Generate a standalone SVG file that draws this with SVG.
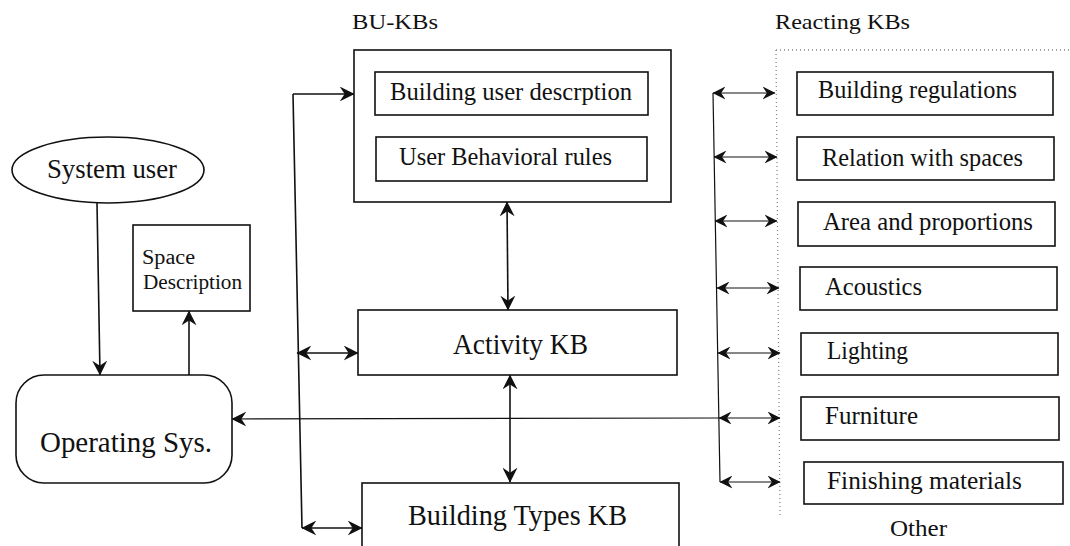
<svg xmlns="http://www.w3.org/2000/svg" width="1070" height="546" viewBox="0 0 1070 546">
  <style>
    .box { fill: #fff; stroke: #111; stroke-width: 1.6; }
    .t { font-family: "Liberation Serif", "Times New Roman", serif; fill: #111; }
    .ln { fill: none; stroke: #111; stroke-width: 1.6; }
    .thin { fill: none; stroke: #111; stroke-width: 1.2; }
    .dot { fill: none; stroke: #888; stroke-width: 1.3; stroke-dasharray: 1 3; }
  </style>
  <defs>
    <marker id="ah" viewBox="0 0 12 12" refX="11.5" refY="6" markerWidth="15" markerHeight="15" markerUnits="userSpaceOnUse" orient="auto-start-reverse">
      <path d="M0,0 L12,6 L0,12 L4,6 z" fill="#111"/>
    </marker>
    <marker id="ahs" viewBox="0 0 12 12" refX="11.5" refY="6" markerWidth="13" markerHeight="13" markerUnits="userSpaceOnUse" orient="auto-start-reverse">
      <path d="M0,0 L12,6 L0,12 L4,6 z" fill="#111"/>
    </marker>
  </defs>
  <rect width="1070" height="546" fill="#fff"/>

  <!-- group titles -->
  <text class="t" x="352" y="29" font-size="22" textLength="86" lengthAdjust="spacingAndGlyphs">BU-KBs</text>
  <text class="t" x="775" y="29" font-size="22" textLength="135" lengthAdjust="spacingAndGlyphs">Reacting KBs</text>

  <!-- dotted frame of the reacting knowledge bases -->
  <path class="dot" d="M776,50 L1070,50 M776,50 L780,518"/>

  <!-- connectors -->
  <g id="connectors">
    <!-- user to operating system, operating system to space description -->
    <path class="ln" d="M97,203 L100,375" marker-end="url(#ah)"/>
    <path class="ln" d="M189,375 L189,311" marker-end="url(#ah)"/>
    <!-- left bus -->
    <path class="ln" d="M293,94 L302,528"/>
    <path class="ln" d="M293,94 L354,94" marker-end="url(#ah)"/>
    <path class="ln" d="M297,353 L358,353" marker-start="url(#ah)" marker-end="url(#ah)"/>
    <path class="ln" d="M302,528 L362,528" marker-start="url(#ah)" marker-end="url(#ah)"/>
    <!-- vertical links between BU-KBs, activity and building types -->
    <path class="ln" d="M507,202 L508,310" marker-start="url(#ah)" marker-end="url(#ah)"/>
    <path class="ln" d="M510,375 L510,482" marker-start="url(#ah)" marker-end="url(#ah)"/>
    <!-- feedback line into the operating system -->
    <path class="thin" d="M719,418 L232,419" marker-end="url(#ah)"/>
    <!-- right bus -->
    <path class="thin" d="M713,93 L720,482"/>
    <path class="thin" d="M713,93 L775,93" marker-start="url(#ahs)" marker-end="url(#ahs)"/>
    <path class="thin" d="M714,157 L777,157" marker-start="url(#ahs)" marker-end="url(#ahs)"/>
    <path class="thin" d="M715,221 L777,221" marker-start="url(#ahs)" marker-end="url(#ahs)"/>
    <path class="thin" d="M717,288 L779,288" marker-start="url(#ahs)" marker-end="url(#ahs)"/>
    <path class="thin" d="M718,353 L780,353" marker-start="url(#ahs)" marker-end="url(#ahs)"/>
    <path class="thin" d="M719,418 L780,418" marker-start="url(#ahs)" marker-end="url(#ahs)"/>
    <path class="thin" d="M720,482 L780,482" marker-start="url(#ahs)" marker-end="url(#ahs)"/>
  </g>

  <g id="system-user">
    <ellipse class="box" cx="108" cy="170" rx="96" ry="33"/>
    <text class="t" x="47" y="178" font-size="28" textLength="130" lengthAdjust="spacingAndGlyphs">System user</text>
  </g>

  <g id="space-description">
    <rect class="box" x="133" y="225" width="117" height="86"/>
    <text class="t" x="142" y="264" font-size="20" textLength="53" lengthAdjust="spacingAndGlyphs">Space</text>
    <text class="t" x="143" y="289" font-size="20" textLength="99" lengthAdjust="spacingAndGlyphs">Description</text>
  </g>

  <g id="operating-sys">
    <rect class="box" x="16" y="375" width="216" height="108" rx="28" ry="28"/>
    <text class="t" x="40" y="452" font-size="30" textLength="172" lengthAdjust="spacingAndGlyphs">Operating Sys.</text>
  </g>

  <g id="bu-kbs">
    <rect class="box" x="354" y="50" width="317" height="152"/>
    <g id="building-user-description">
      <rect class="box" x="375" y="72" width="273" height="43"/>
      <text class="t" x="390" y="100" font-size="25" textLength="242" lengthAdjust="spacingAndGlyphs">Building user descrption</text>
    </g>
    <g id="user-behavioral-rules">
      <rect class="box" x="376" y="137" width="271" height="44"/>
      <text class="t" x="399" y="165" font-size="25" textLength="213" lengthAdjust="spacingAndGlyphs">User Behavioral rules</text>
    </g>
  </g>

  <g id="activity-kb">
    <rect class="box" x="358" y="310" width="319" height="65"/>
    <text class="t" x="453" y="354" font-size="29" textLength="135" lengthAdjust="spacingAndGlyphs">Activity KB</text>
  </g>

  <g id="building-types-kb">
    <rect class="box" x="362" y="483" width="317" height="80"/>
    <text class="t" x="408" y="525" font-size="29" textLength="219" lengthAdjust="spacingAndGlyphs">Building Types KB</text>
  </g>

  <g id="building-regulations">
    <rect class="box" x="797" y="72" width="256" height="43"/>
    <text class="t" x="818" y="98" font-size="25" textLength="199" lengthAdjust="spacingAndGlyphs">Building regulations</text>
  </g>
  <g id="relation-with-spaces">
    <rect class="box" x="797" y="137" width="257" height="43"/>
    <text class="t" x="822" y="166" font-size="25" textLength="201" lengthAdjust="spacingAndGlyphs">Relation with spaces</text>
  </g>
  <g id="area-and-proportions">
    <rect class="box" x="798" y="202" width="257" height="44"/>
    <text class="t" x="823" y="230" font-size="25" textLength="210" lengthAdjust="spacingAndGlyphs">Area and proportions</text>
  </g>
  <g id="acoustics">
    <rect class="box" x="800" y="267" width="257" height="43"/>
    <text class="t" x="825" y="295" font-size="25" textLength="97" lengthAdjust="spacingAndGlyphs">Acoustics</text>
  </g>
  <g id="lighting">
    <rect class="box" x="801" y="333" width="257" height="42"/>
    <text class="t" x="827" y="359" font-size="25" textLength="81" lengthAdjust="spacingAndGlyphs">Lighting</text>
  </g>
  <g id="furniture">
    <rect class="box" x="801" y="397" width="258" height="43"/>
    <text class="t" x="825" y="424" font-size="25" textLength="93" lengthAdjust="spacingAndGlyphs">Furniture</text>
  </g>
  <g id="finishing-materials">
    <rect class="box" x="804" y="462" width="259" height="42"/>
    <text class="t" x="827" y="489" font-size="25" textLength="195" lengthAdjust="spacingAndGlyphs">Finishing materials</text>
  </g>
  <g id="other">
    <text class="t" x="890" y="536" font-size="24" textLength="57" lengthAdjust="spacingAndGlyphs">Other</text>
  </g>
</svg>
